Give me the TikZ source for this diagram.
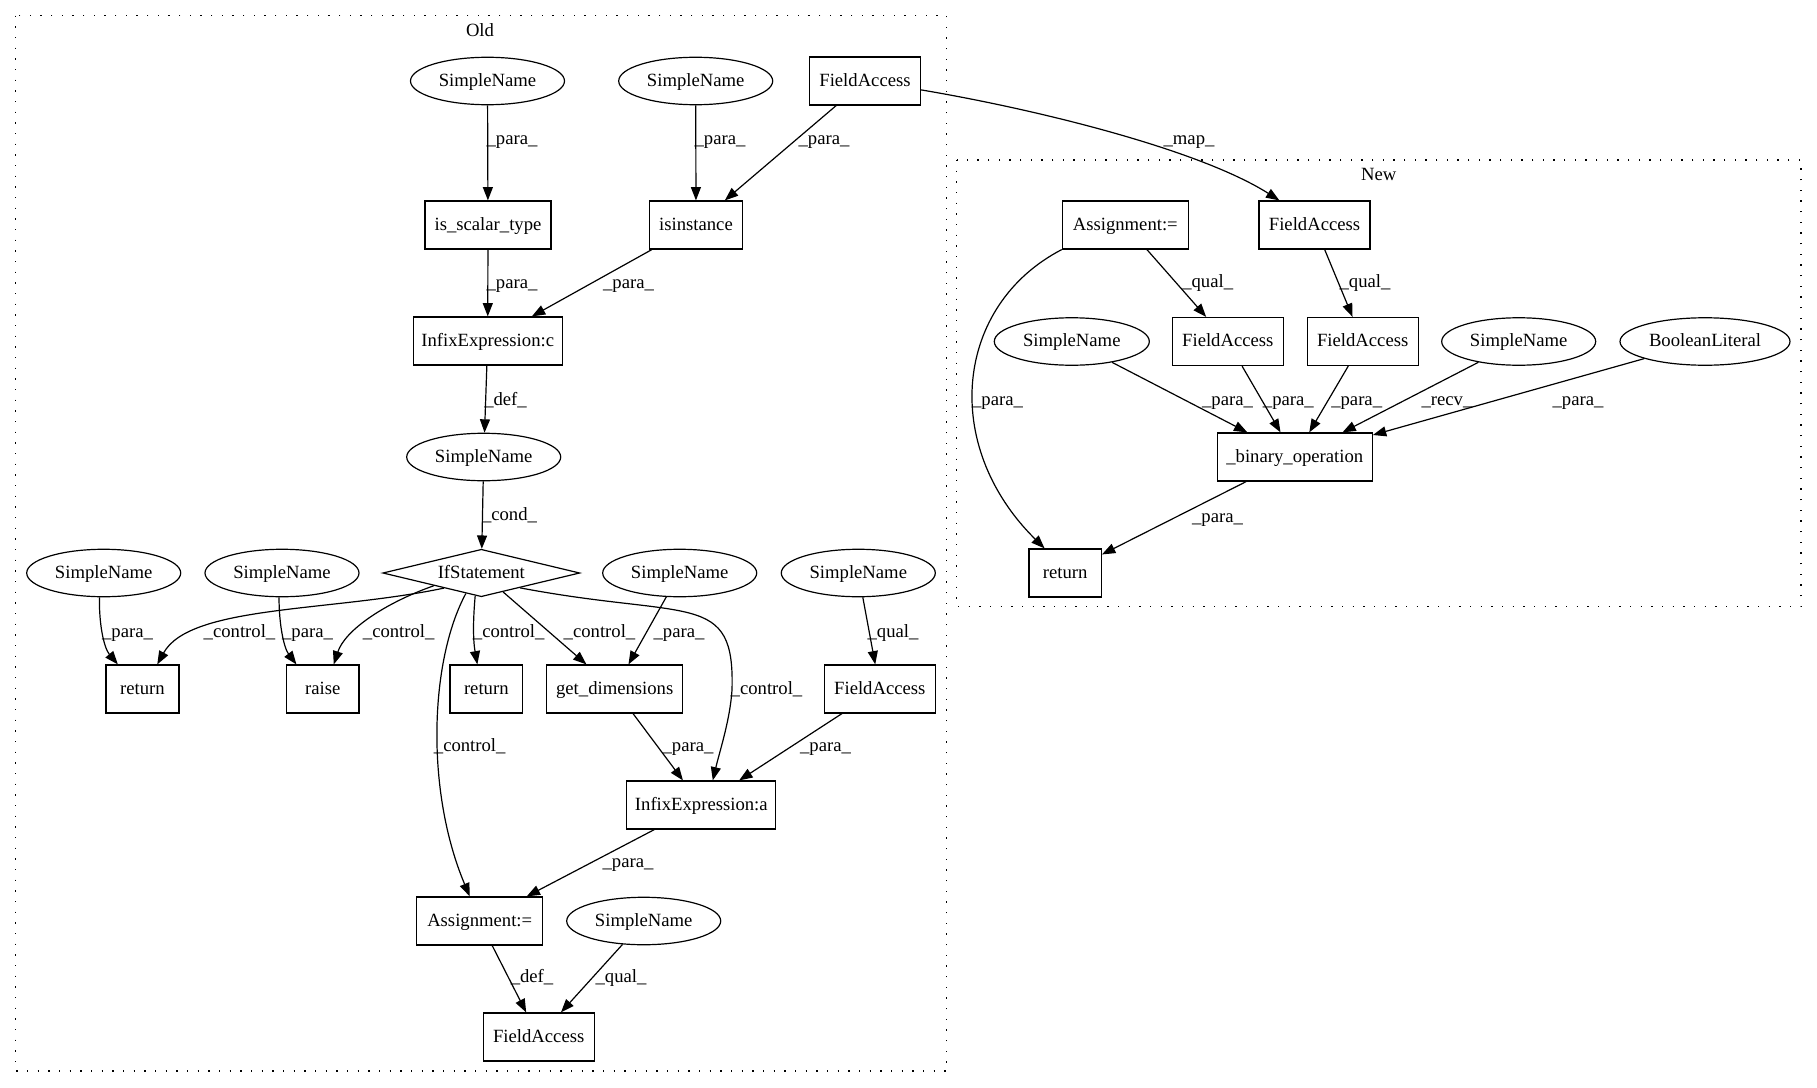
\documentclass[tikz,border=0pt]{standalone}
\usepackage{fontspec}
\setmainfont{Liberation Serif}
\usetikzlibrary{shapes.geometric,arrows.meta}
\begin{document}
\begin{tikzpicture}[x=0.75pt,y=-0.75pt,
  every node/.style={font=\fontsize{14}{16}\selectfont},
  gbox/.style={draw,line width=0.9pt,rectangle,minimum height=36pt,minimum width=#1,inner sep=0pt,text height=11pt,text depth=3pt},
  gell/.style={draw,line width=0.9pt,ellipse,minimum height=35.6pt,minimum width=#1,inner sep=0pt,text height=11pt,text depth=3pt},
  gdia/.style={draw,line width=0.9pt,diamond,aspect=4,minimum width=147.75pt,minimum height=35.6pt,inner sep=0pt,text height=11pt,text depth=3pt},
  lbl/.style={anchor=base,inner sep=0pt},
  arr/.style={draw,line width=0.9pt,-{Triangle[length=10pt,width=7.5pt]}},
  clus/.style={draw,line width=0.9pt,dash pattern=on 1pt off 7pt}
]
\useasboundingbox (0,0) rectangle (1817,1088);

% clusters
\draw[clus] (15.7,15.7) rectangle (946.7,1071);
\node[lbl] (oldlbl) at (480,37) {Old};
\draw[clus] (956.7,160) rectangle (1801,606.7);
\node[lbl] (newlbl) at (1378.7,180) {New};

% Old nodes
\node[gell=115.5pt] (snA) at (487.5,81) {SimpleName};
\node[gell=115.5pt] (snB) at (695.7,81) {SimpleName};
\node[gbox=83.25pt] (faT) at (865,81) {FieldAccess};
\node[gbox=94.5pt] (ist) at (488,225) {is\_scalar\_type};
\node[gbox=69.75pt] (isi) at (696,225) {isinstance};
\node[gbox=111.75pt] (infC) at (487.7,341) {InfixExpression:c};
\node[gell=115.5pt] (snD) at (483.7,457) {SimpleName};
\node[gdia] (ifs) at (481.3,573) {IfStatement};
\node[gell=115.5pt] (sn1) at (103.7,573) {SimpleName};
\node[gell=115.5pt] (sn2) at (282,573) {SimpleName};
\node[gell=115.5pt] (sn3) at (679.7,573) {SimpleName};
\node[gell=115.5pt] (sn4) at (858.3,573) {SimpleName};
\node[gbox=54.75pt] (ret1) at (142.5,689) {return};
\node[gbox=54.25pt] (rai) at (322.8,689) {raise};
\node[gbox=54.5pt] (ret2) at (486.3,689) {return};
\node[gbox=102pt] (gd) at (614.7,689) {get\_dimensions};
\node[gbox=83.25pt] (fa4) at (879.8,689) {FieldAccess};
\node[gbox=111.75pt] (infA) at (701.3,805) {InfixExpression:a};
\node[gbox=94.5pt] (asg) at (479.7,921) {Assignment:=};
\node[gell=115.5pt] (sn5) at (643.7,921) {SimpleName};
\node[gbox=83.25pt] (faB) at (538.7,1037) {FieldAccess};

% New nodes
\node[gbox=94.5pt] (asgN) at (1125.3,225) {Assignment:=};
\node[gbox=83.25pt] (faN) at (1314.5,225) {FieldAccess};
\node[gell=116.25pt] (snN1) at (1071.8,341.5) {SimpleName};
\node[gbox=83.25pt] (faN1) at (1227.8,341.5) {FieldAccess};
\node[gbox=83.25pt] (faN2) at (1362.7,341.5) {FieldAccess};
\node[gell=115.5pt] (snN2) at (1518.7,341.5) {SimpleName};
\node[gell=127.5pt] (bl) at (1705,341.5) {BooleanLiteral};
\node[gbox=116.25pt] (bin) at (1294.8,457) {\_binary\_operation};
\node[gbox=54.25pt] (retN) at (1065.2,573) {return};

% Old edges
\draw[arr] (snA) -- (ist);
\node[lbl] at (512,144) {\_para\_};
\draw[arr] (snB) -- (isi);
\node[lbl] at (720,144) {\_para\_};
\draw[arr] (faT) -- (isi);
\node[lbl] at (824,144) {\_para\_};
\draw[arr] (faT.-9) .. controls (1040,110) and (1200,150) .. (faN.145);
\node[lbl] at (1189,144) {\_map\_};
\draw[arr] (ist) -- (infC);
\node[lbl] at (512,288) {\_para\_};
\draw[arr] (isi) -- (infC);
\node[lbl] at (628.5,288) {\_para\_};
\draw[arr] (infC) -- (snD);
\node[lbl] at (505.5,405) {\_def\_};
\draw[arr] (snD) -- (ifs);
\node[lbl] at (509.5,520) {\_cond\_};

\draw[arr] (sn1.260) .. controls (99,625) and (104,648) .. (ret1.135);
\node[lbl] at (127.5,637) {\_para\_};
\draw[arr] (ifs.202) .. controls (330,612) and (190,605) .. (ret1.59);
\node[lbl] at (239.5,637) {\_control\_};
\draw[arr] (sn2.263) .. controls (279,625) and (284,648) .. (rai.137);
\node[lbl] at (307.5,637) {\_para\_};
\draw[arr] (ifs.195) .. controls (385,603) and (345,630) .. (rai.66);
\node[lbl] at (398.7,637) {\_control\_};
\draw[arr] (ifs.255) .. controls (473,620) and (473,640) .. (ret2.110);
\node[lbl] at (508.7,637) {\_control\_};
\draw[arr] (ifs) -- (gd);
\node[lbl] at (599.5,637) {\_control\_};
\draw[arr] (sn3) -- (gd);
\node[lbl] at (679,637) {\_para\_};
\draw[arr] (sn4) -- (fa4);
\node[lbl] at (893,637) {\_qual\_};
\draw[arr] (ifs.-21) .. controls (690,620) and (735,590) .. (732,690) .. controls (730,720) and (720,750) .. (infA.65);
\node[lbl] at (766.5,694) {\_control\_};
\draw[arr] (ifs.233) .. controls (430,660) and (425,790) .. (asg.112);
\node[lbl] at (469.7,751.7) {\_control\_};
\draw[arr] (gd) -- (infA);
\node[lbl] at (688,751.7) {\_para\_};
\draw[arr] (fa4) -- (infA);
\node[lbl] at (825.5,751.7) {\_para\_};
\draw[arr] (infA) -- (asg);
\node[lbl] at (628,867.7) {\_para\_};
\draw[arr] (asg) -- (faB);
\node[lbl] at (532,982.3) {\_def\_};
\draw[arr] (sn5) -- (faB);
\node[lbl] at (621,982.3) {\_qual\_};

% New edges
\draw[arr] (asgN) -- (faN1);
\node[lbl] at (1207.7,287.7) {\_qual\_};
\draw[arr] (faN) -- (faN2);
\node[lbl] at (1365,287.7) {\_qual\_};
\draw[arr] (asgN.south west) .. controls (955,305) and (940,445) .. (retN.130);
\node[lbl] at (997.5,405) {\_para\_};
\draw[arr] (snN1) -- (bin);
\node[lbl] at (1227.5,405) {\_para\_};
\draw[arr] (faN1) -- (bin);
\node[lbl] at (1288.3,405) {\_para\_};
\draw[arr] (faN2) -- (bin);
\node[lbl] at (1356.7,405) {\_para\_};
\draw[arr] (snN2) -- (bin);
\node[lbl] at (1447,405) {\_recv\_};
\draw[arr] (bl) -- (bin);
\node[lbl] at (1578,405) {\_para\_};
\draw[arr] (bin) -- (retN);
\node[lbl] at (1217.5,522.3) {\_para\_};
\end{tikzpicture}
\end{document}
